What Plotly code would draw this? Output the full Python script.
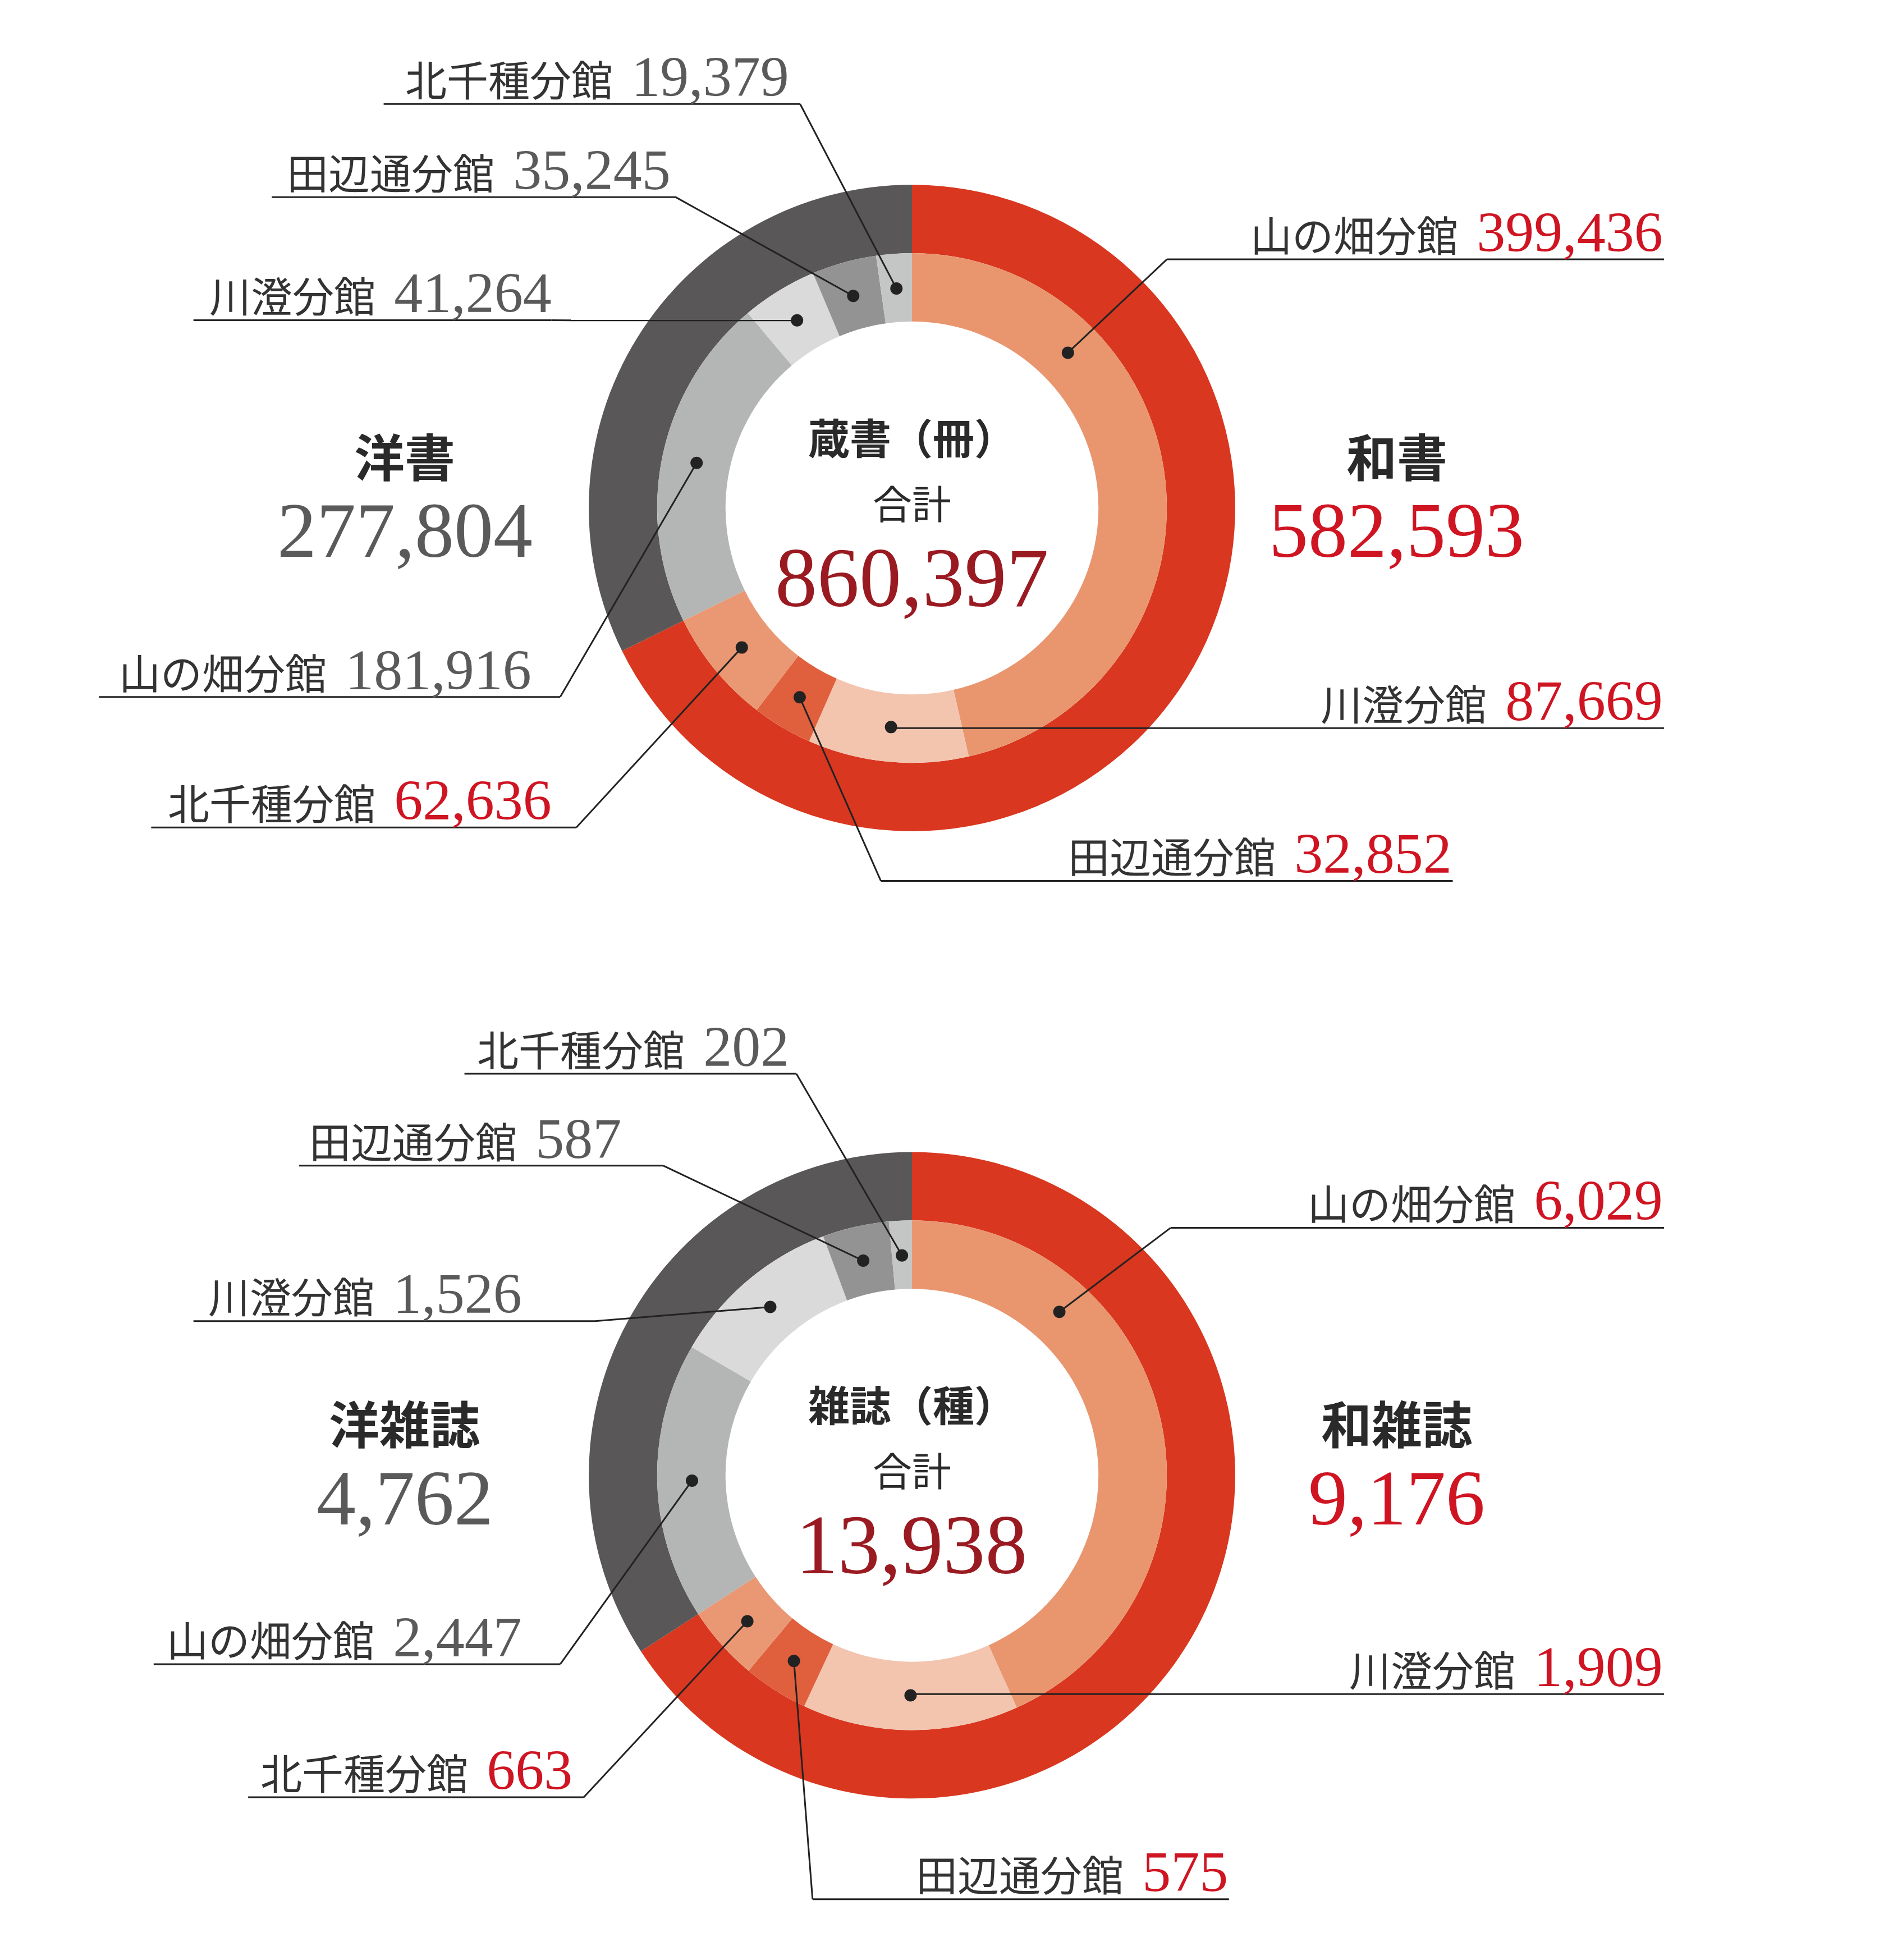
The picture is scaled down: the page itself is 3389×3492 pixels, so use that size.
import plotly.graph_objects as go
import math

W, H = 3389, 3492
S = W / 1530.0

branches = ["山の畑分館", "川澄分館", "田辺通分館", "北千種分館"]
# top chart: books
wa_books = [399436, 87669, 32852, 62636]
yo_books = [181916, 41264, 35245, 19379]
wa_books_total = 582593
yo_books_total = 277804
books_total = 860397
# bottom chart: magazines
wa_mag = [6029, 1909, 575, 663]
yo_mag = [2447, 1526, 587, 202]
wa_mag_total = 9176
yo_mag_total = 4762
mag_total = 13938

RED = "#D9371F"
DARK = "#595758"
wa_cols = ["#E9966F", "#F3C5AF", "#E05F3D", "#EA9873"]
yo_cols = ["#B4B5B5", "#DADADA", "#939393", "#C4C5C5"]
NUMRED = "#CF1422"
NUMGRAY = "#5A5A5A"
TXT = "#333333"
CJK = "Noto Sans CJK JP"
SERIF = "Liberation Serif"

fig = go.Figure()
shapes, anns = [], []

R_OUT, R_MID, R_IN = 260 * S, 205 * S, 150 * S
R_DOT = 177 * S


def dom(cx, cy, r):
    return dict(x=[(cx - r) / W, (cx + r) / W], y=[1 - (cy + r) / H, 1 - (cy - r) / H])


def fmt(v):
    return f"{v:,}"


def chart(cy_d, wa, yo, wa_t, yo_t, tot, title, lwa, lyo, labels):
    cx, cy = 730 * S, cy_d * S
    fig.add_trace(go.Pie(values=[wa_t, yo_t], sort=False, direction="clockwise", rotation=0,
                         hole=R_MID / R_OUT, marker=dict(colors=[RED, DARK], line=dict(width=0)),
                         textinfo="none", hoverinfo="skip", domain=dom(cx, cy, R_OUT), showlegend=False))
    vals = wa + yo
    fig.add_trace(go.Pie(values=vals, sort=False, direction="clockwise", rotation=0,
                         hole=R_IN / R_MID, marker=dict(colors=wa_cols + yo_cols, line=dict(width=0)),
                         textinfo="none", hoverinfo="skip", domain=dom(cx, cy, R_MID), showlegend=False))
    total = sum(vals)
    starts = []
    cum = 0
    for v in vals:
        starts.append(cum)
        cum += v
    for (idx, tr, ty, ul, ur, cxn, frac) in labels:
        val = vals[idx]
        th = 2 * math.pi * (starts[idx] + val * frac) / total
        dx, dy = cx + R_DOT * math.sin(th), cy - R_DOT * math.cos(th)
        name = branches[idx % 4]
        col = NUMRED if idx < 4 else NUMGRAY
        anns.append(dict(x=tr * S, y=ty * S, xref="x", yref="y", xanchor="right", yanchor="middle",
                         showarrow=False,
                         text=f"<span style='font-family:{CJK};color:{TXT}'>{name}</span>&nbsp; "
                              f"<span style='font-family:{SERIF};color:{col};font-size:102px'>{fmt(val)}</span>",
                         font=dict(size=74, family=CJK, color=TXT)))
        uy = (ty + 22) * S
        shapes.append(dict(type="line", x0=ul * S, x1=ur * S, y0=uy, y1=uy, xref="x", yref="y",
                           line=dict(color="#222", width=3)))
        shapes.append(dict(type="line", x0=cxn * S, y0=uy, x1=dx, y1=dy, xref="x", yref="y",
                           line=dict(color="#222", width=3)))
        shapes.append(dict(type="circle", x0=dx - 11, x1=dx + 11, y0=dy - 11, y1=dy + 11,
                           xref="x", yref="y", fillcolor="#222", line=dict(width=0)))
    for xd, name, v, col in [(322, lyo, yo_t, NUMGRAY), (1120, lwa, wa_t, NUMRED)]:
        anns.append(dict(x=xd * S, y=(cy_d - 43) * S, xref="x", yref="y", showarrow=False,
                         text=f"<b>{name}</b>", font=dict(size=90, family=CJK, color="#2a2a2a")))
        anns.append(dict(x=xd * S, y=(cy_d + 18) * S, xref="x", yref="y", showarrow=False,
                         text=fmt(v), font=dict(size=140, family=SERIF, color=col)))
    anns.append(dict(x=cx, y=(cy_d - 58) * S, xref="x", yref="y", showarrow=False,
                     text=f"<b>{title}</b>", font=dict(size=74, family=CJK, color="#2a2a2a")))
    anns.append(dict(x=cx, y=(cy_d - 5) * S, xref="x", yref="y", showarrow=False,
                     text="合計", font=dict(size=70, family=CJK, color="#2a2a2a")))
    anns.append(dict(x=cx, y=(cy_d + 56) * S, xref="x", yref="y", showarrow=False,
                     text=fmt(tot), font=dict(size=150, family=SERIF, color="#9A1A22")))


# index into [wa(4), yo(4)]: 0 山wa,1 川wa,2 田wa,3 北wa,4 山yo,5 川yo,6 田yo,7 北yo
chart(405, wa_books, yo_books, wa_books_total, yo_books_total, books_total, "蔵書（冊）", "和書", "洋書", [
    (7, 632, 58, 305, 640, 640, 0.5),
    (6, 537, 133, 215, 540, 540, 0.5),
    (5, 441, 232, 152, 440, 440, 0.5),
    (4, 425, 535, 76, 447, 447, 0.5),
    (3, 441, 640, 118, 460, 460, 0.5),
    (2, 1165, 683, 705, 1165, 705, 0.5),
    (1, 1335, 560, 716, 1335, 716, 0.5),
    (0, 1335, 183, 935, 1335, 935, 0.27),
])
chart(1183, wa_mag, yo_mag, wa_mag_total, yo_mag_total, mag_total, "雑誌（種）", "和雑誌", "洋雑誌", [
    (7, 632, 838, 370, 637, 637, 0.5),
    (6, 497, 912, 237, 530, 530, 0.5),
    (5, 417, 1037, 152, 475, 475, 0.5),
    (4, 417, 1313, 120, 447, 447, 0.5),
    (3, 458, 1420, 196, 466, 466, 0.5),
    (2, 985, 1502, 650, 985, 650, 0.5),
    (1, 1335, 1337, 731, 1335, 731, 0.5),
    (0, 1335, 962, 938, 1335, 938, 0.27),
])

fig.update_layout(width=W, height=H, margin=dict(l=0, r=0, t=0, b=0),
                  paper_bgcolor="white", plot_bgcolor="rgba(0,0,0,0)",
                  xaxis=dict(range=[0, W], visible=False, fixedrange=True),
                  yaxis=dict(range=[H, 0], visible=False, fixedrange=True),
                  shapes=shapes, annotations=anns)
fig.write_html("out.html")
